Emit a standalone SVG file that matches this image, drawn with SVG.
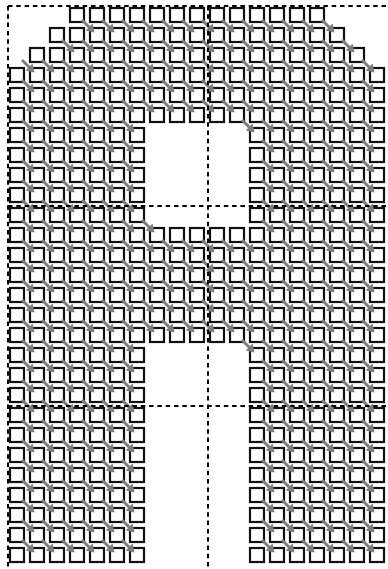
<svg xmlns="http://www.w3.org/2000/svg" width="388" height="569" viewBox="0 0 388 569">
  <defs>
    <pattern id="cellPat" patternUnits="userSpaceOnUse" x="8" y="6" width="20" height="20">
      <rect x="2" y="2" width="14" height="14" fill="none" stroke="#111" stroke-width="2.2"/>
    </pattern>
    <pattern id="arrowPat" patternUnits="userSpaceOnUse" x="17" y="15" width="20" height="20">
      <path d="M5,5 L13,13" stroke="#7d7d7d" stroke-width="3" fill="none"/>
      <polygon points="17.5,17.5 15.6,8.6 8.6,15.6" fill="#7d7d7d"/>
    </pattern>
  </defs>
  <style>
    .grid { stroke: #000; stroke-width: 2; stroke-dasharray: 4.5 3.8; fill: none; }
  </style>
  <rect width="388" height="569" fill="#fff"/>
  <g id="cells">
    <path fill="url(#cellPat)" fill-rule="evenodd" d="M68,6 H328 V26 H348 V46 H368 V66 H388 V566 H248 V346 H148 V566 H8 V66 H28 V46 H48 V26 H68 Z M148,126 H248 V226 H148 Z"/>
  </g>
  <g id="arrows" fill="url(#arrowPat)">
    <rect x="77" y="15" width="260" height="20"/>
    <rect x="57" y="35" width="300" height="20"/>
    <rect x="17" y="55" width="360" height="20"/>
    <rect x="17" y="75" width="360" height="40"/>
    <rect x="17" y="115" width="120" height="20"/>
    <rect x="237" y="115" width="140" height="20"/>
    <rect x="17" y="135" width="120" height="80"/>
    <rect x="257" y="135" width="120" height="80"/>
    <rect x="17" y="215" width="140" height="20"/>
    <rect x="257" y="215" width="120" height="20"/>
    <rect x="17" y="235" width="360" height="100"/>
    <rect x="17" y="335" width="120" height="20"/>
    <rect x="237" y="335" width="140" height="20"/>
    <rect x="17" y="355" width="120" height="200"/>
    <rect x="257" y="355" width="120" height="200"/>
  </g>
  <g id="tile-grid">
    <line class="grid" x1="8" y1="6" x2="388" y2="6"/>
    <line class="grid" x1="8" y1="206" x2="388" y2="206"/>
    <line class="grid" x1="8" y1="406" x2="388" y2="406"/>
    <line class="grid" x1="8" y1="6" x2="8" y2="569"/>
    <line class="grid" x1="208" y1="6" x2="208" y2="569"/>
  </g>
</svg>
